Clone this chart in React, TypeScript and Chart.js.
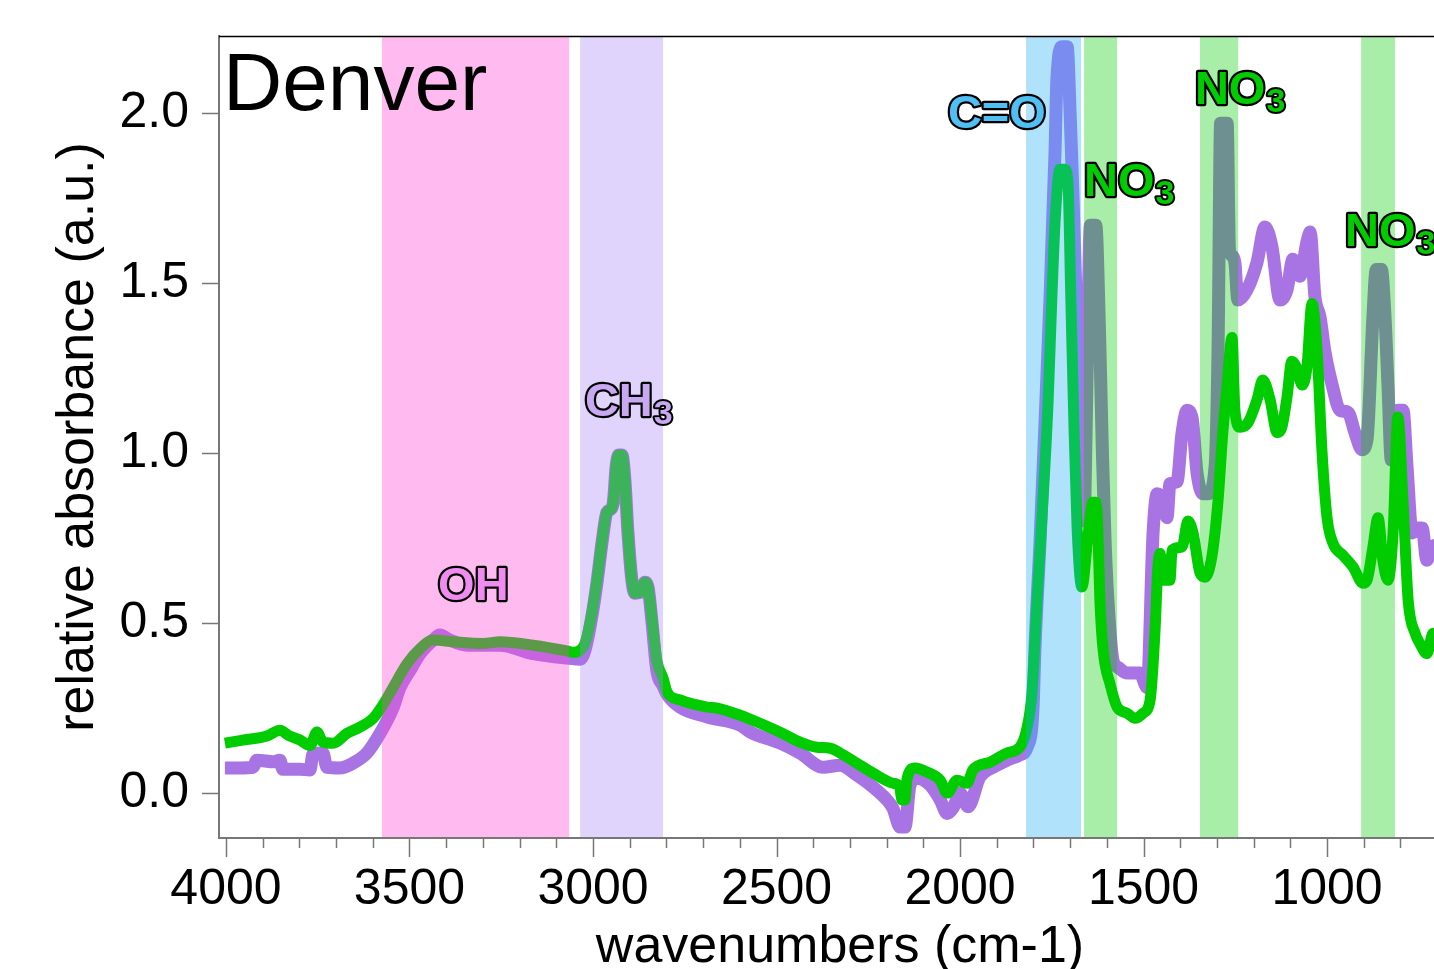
import React, { useEffect, useRef } from "react";
import { Chart, registerables } from "chart.js";

Chart.register(...registerables);

// ---------------- data ----------------
const PURPLE_WN = [4003,3960,3926,3916,3870,3853,3845,3800,3771,3763,3736,3725,3690,3654,3616,3580,3545,3526,3499,3471,3436,3417,3390,3343,3253,3163,3071,3035,3022,3003,2989,2975,2962,2950,2944,2937,2930,2921,2913,2905,2894,2886,2872,2858,2850,2839,2826,2809,2798,2763,2689,2599,2572,2490,2436,2373,2327,2281,2237,2199,2183,2163,2150,2136,2117,2082,2054,2035,2019,2000,1978,1946,1910,1872,1837,1817,1801,1796,1782,1768,1755,1741,1736,1722,1708,1700,1692,1681,1673,1665,1660,1652,1645,1630,1620,1612,1605,1597,1583,1570,1545,1510,1490,1474,1463,1447,1436,1428,1409,1395,1381,1368,1354,1338,1324,1305,1297,1290,1272,1266,1259,1251,1243,1218,1191,1169,1150,1128,1109,1093,1074,1055,1046,1033,1019,1006,986,965,943,924,905,891,875,866,852,842,834,825,815,807,793,782,768,755,741,728,714,700];
const PURPLE_ABS = [0.074,0.074,0.076,0.097,0.092,0.097,0.07,0.07,0.068,0.115,0.118,0.076,0.074,0.088,0.118,0.176,0.25,0.31,0.36,0.41,0.45,0.465,0.45,0.435,0.435,0.41,0.397,0.394,0.42,0.52,0.62,0.74,0.826,0.836,0.86,0.96,0.994,0.994,0.92,0.77,0.626,0.588,0.59,0.62,0.606,0.5,0.36,0.315,0.29,0.253,0.224,0.2,0.18,0.147,0.118,0.076,0.082,0.053,0.018,-0.02,-0.044,-0.1,-0.1,0.024,0.044,0.024,-0.02,-0.06,-0.044,0.0,-0.04,0.047,0.076,0.097,0.112,0.135,0.25,0.42,0.74,1.1,1.45,1.89,2.1,2.195,2.195,2.0,1.75,1.35,1.06,0.8,0.85,1.36,1.67,1.67,1.36,1.0,0.75,0.567,0.39,0.37,0.353,0.353,0.31,0.765,0.88,0.86,0.81,0.91,0.915,1.06,1.126,1.106,0.94,0.88,0.88,0.96,1.3,1.97,1.97,1.6,1.58,1.56,1.45,1.48,1.56,1.665,1.606,1.45,1.48,1.57,1.52,1.62,1.65,1.46,1.4,1.3,1.2,1.126,1.12,1.06,1.01,1.04,1.4,1.54,1.54,1.4,1.2,0.98,1.05,1.126,1.126,0.96,0.765,0.78,0.78,0.685,0.724,0.73];

const GREEN_WN = [4003,3954,3888,3853,3830,3798,3771,3752,3736,3708,3670,3635,3599,3572,3545,3507,3471,3436,3381,3300,3253,3163,3071,3054,3035,3022,3003,2989,2975,2962,2950,2944,2937,2930,2921,2913,2905,2894,2886,2872,2858,2850,2839,2826,2809,2798,2763,2689,2662,2599,2553,2490,2436,2390,2354,2327,2281,2237,2183,2165,2158,2150,2144,2123,2090,2054,2035,2008,1981,1965,1918,1872,1837,1817,1804,1790,1774,1760,1750,1741,1728,1715,1706,1698,1690,1681,1668,1651,1638,1630,1624,1619,1610,1591,1572,1545,1523,1501,1482,1469,1461,1455,1447,1428,1422,1395,1379,1365,1346,1333,1314,1297,1284,1273,1259,1251,1237,1215,1191,1175,1155,1136,1123,1109,1096,1082,1068,1055,1041,1027,1014,1000,984,957,929,902,891,875,861,848,834,820,807,793,779,760,747,728,711,700];
const GREEN_ABS = [0.147,0.156,0.168,0.185,0.17,0.156,0.14,0.18,0.15,0.147,0.176,0.194,0.22,0.26,0.31,0.38,0.425,0.45,0.445,0.44,0.445,0.435,0.418,0.414,0.42,0.44,0.53,0.626,0.744,0.826,0.836,0.86,0.96,0.994,0.994,0.92,0.77,0.626,0.588,0.59,0.62,0.606,0.51,0.39,0.338,0.297,0.274,0.253,0.25,0.229,0.209,0.179,0.15,0.135,0.132,0.118,0.088,0.059,0.029,0.02,-0.02,-0.02,0.044,0.074,0.062,0.038,0.0,0.038,0.029,0.068,0.091,0.118,0.135,0.194,0.294,0.57,0.86,1.15,1.45,1.68,1.835,1.835,1.8,1.45,1.1,0.78,0.606,0.76,0.855,0.855,0.76,0.57,0.42,0.32,0.253,0.235,0.22,0.235,0.274,0.47,0.665,0.705,0.626,0.626,0.715,0.724,0.8,0.765,0.647,0.635,0.694,0.86,1.06,1.19,1.34,1.126,1.076,1.09,1.156,1.215,1.156,1.06,1.076,1.165,1.27,1.25,1.2,1.25,1.44,1.3,1.01,0.81,0.735,0.7,0.665,0.617,0.626,0.724,0.81,0.685,0.626,0.765,1.106,0.86,0.567,0.47,0.44,0.41,0.47,0.47];

const X_TICKS = [4000, 3500, 3000, 2500, 2000, 1500, 1000];
const Y_TICKS = [0, 0.5, 1.0, 1.5, 2.0];

// shaded bands (from, to in wavenumbers) and fills
const BAND_FROM = [3575, 3035, 1820, 1662, 1346, 907];
const BAND_TO = [3065, 2809, 1670, 1572, 1242, 815];
const BAND_FILL = ["#ffbbf0", "#e0d4fc", "#b0e2fc", "#a8eea8", "#a8eea8", "#a8eea8"];
// how each line looks inside each band
const PURPLE_IN_BAND = ["#c864e0", "#a874e4", "#7a8cf0", "#6e9090", "#6e9090", "#6e9090"];
const GREEN_IN_BAND = ["#5c9a4a", "#3cb25a", "#08c258", "#00cc00", "#00cc00", "#00cc00"];

// outlined peak labels
const LABEL_TEXT = ["OH", "CH", "C=O", "NO", "NO", "NO"];
const LABEL_SUB = ["", "3", "", "3", "3", "3"];
const LABEL_WN = [3422, 3022, 2033, 1662, 1360, 951];
const LABEL_Y = [0.568, 1.109, 1.956, 1.756, 2.026, 1.609];
const LABEL_FILL = ["#f08cf0", "#c8a8f0", "#50c0f4", "#00cc00", "#00cc00", "#00cc00"];

const SITE_NAME = "Denver";
const SITE_WN = 4008;
const SITE_Y = 2.009;

const FONT = '"Liberation Sans", Arial, Helvetica, sans-serif';

function bandGradient(chart: any, base: string, inBand: string[]) {
  const xs = chart.scales && chart.scales.x;
  const area = chart.chartArea;
  if (!xs || !area) return base;
  const x0 = area.left;
  const x1 = area.right;
  const g = chart.ctx.createLinearGradient(x0, 0, x1, 0);
  const t = (p: number) => Math.min(1, Math.max(0, (p - x0) / (x1 - x0)));
  g.addColorStop(0, base);
  for (let i = 0; i < BAND_FROM.length; i++) {
    const a = t(xs.getPixelForValue(BAND_FROM[i]));
    const b = t(xs.getPixelForValue(BAND_TO[i]));
    g.addColorStop(a, base);
    g.addColorStop(a, inBand[i]);
    g.addColorStop(b, inBand[i]);
    g.addColorStop(b, base);
  }
  g.addColorStop(1, base);
  return g;
}

const decorPlugin = {
  id: "decor",
  beforeDatasetsDraw(chart: any) {
    const { ctx, chartArea: a, scales } = chart;
    const xs = scales.x;
    ctx.save();
    for (let i = 0; i < BAND_FROM.length; i++) {
      const p0 = xs.getPixelForValue(BAND_FROM[i]);
      const p1 = xs.getPixelForValue(BAND_TO[i]);
      ctx.fillStyle = BAND_FILL[i];
      ctx.fillRect(Math.min(p0, p1), a.top, Math.abs(p1 - p0), a.bottom - a.top - 1);
    }
    ctx.restore();
  },
  afterDatasetsDraw(chart: any) {
    const { ctx, scales } = chart;
    const xs = scales.x;
    const ys = scales.y;
    ctx.save();
    ctx.textBaseline = "alphabetic";
    ctx.textAlign = "left";
    ctx.lineJoin = "round";
    for (let i = 0; i < LABEL_TEXT.length; i++) {
      const x = xs.getPixelForValue(LABEL_WN[i]);
      const y = ys.getPixelForValue(LABEL_Y[i]);
      ctx.font = `bold 47px ${FONT}`;
      ctx.lineWidth = 4.5;
      ctx.strokeStyle = "#000";
      ctx.fillStyle = LABEL_FILL[i];
      ctx.strokeText(LABEL_TEXT[i], x, y);
      ctx.fillText(LABEL_TEXT[i], x, y);
      if (LABEL_SUB[i]) {
        const w = ctx.measureText(LABEL_TEXT[i]).width;
        ctx.font = `bold 34px ${FONT}`;
        ctx.lineWidth = 4;
        ctx.strokeText(LABEL_SUB[i], x + w + 1, y + 8);
        ctx.fillText(LABEL_SUB[i], x + w + 1, y + 8);
      }
    }
    ctx.font = `82px ${FONT}`;
    ctx.fillStyle = "#000";
    ctx.fillText(SITE_NAME, xs.getPixelForValue(SITE_WN), ys.getPixelForValue(SITE_Y));
    ctx.restore();
  },
  afterDraw(chart: any) {
    const { ctx, chartArea: a, scales } = chart;
    const xs = scales.x;
    const ys = scales.y;
    ctx.save();
    ctx.strokeStyle = "#777";
    ctx.lineWidth = 1.5;
    ctx.beginPath();
    for (const v of Y_TICKS) {
      const y = Math.round(ys.getPixelForValue(v)) + 0.5;
      ctx.moveTo(a.left - 17, y);
      ctx.lineTo(a.left, y);
    }
    const lo = Math.ceil(Math.min(xs.min, xs.max) / 100) * 100;
    for (let w = 4000; w >= lo; w -= 100) {
      const x = Math.round(xs.getPixelForValue(w)) + 0.5;
      const len = w % 500 === 0 ? 19 : 10;
      ctx.moveTo(x, a.bottom);
      ctx.lineTo(x, a.bottom + len);
    }
    ctx.stroke();
    ctx.strokeStyle = "#000";
    ctx.lineWidth = 1.5;
    ctx.beginPath();
    ctx.moveTo(a.left, a.top + 0.5);
    ctx.lineTo(a.right, a.top + 0.5);
    ctx.stroke();
    ctx.restore();
  },
};

export default function App() {
  const ref = useRef<HTMLCanvasElement | null>(null);

  useEffect(() => {
    document.body.style.margin = "0";
    const canvas = ref.current;
    if (!canvas) return;
    const purple = PURPLE_WN.map((w, i) => ({ x: w, y: PURPLE_ABS[i] }));
    const green = GREEN_WN.map((w, i) => ({ x: w, y: GREEN_ABS[i] }));
    const chart = new Chart(canvas, {
      type: "line",
      data: {
        datasets: [
          {
            label: "purple",
            data: purple,
            order: 2,
            borderWidth: 13,
            borderColor: (c: any) => bandGradient(c.chart, "#a874e4", PURPLE_IN_BAND),
            pointRadius: 0,
            cubicInterpolationMode: "monotone",
            borderJoinStyle: "round",
            fill: false,
          },
          {
            label: "green",
            data: green,
            order: 1,
            borderWidth: 11,
            borderColor: (c: any) => bandGradient(c.chart, "#00cc00", GREEN_IN_BAND),
            pointRadius: 0,
            cubicInterpolationMode: "monotone",
            borderJoinStyle: "round",
            fill: false,
          },
        ],
      },
      options: {
        animation: false,
        responsive: false,
        devicePixelRatio: 1,
        layout: { padding: { top: 36, left: 0, right: 0, bottom: 0 } },
        plugins: {
          legend: { display: false },
          tooltip: { enabled: false },
          title: { display: false },
        },
        scales: {
          x: {
            type: "linear",
            reverse: true,
            min: 635,
            max: 4019,
            afterBuildTicks: (s: any) => {
              s.ticks = X_TICKS.map((v) => ({ value: v }));
            },
            afterFit: (s: any) => {
              s.height = 131;
              s.paddingLeft = 0;
              s.paddingRight = 0;
            },
            ticks: {
              autoSkip: false,
              maxRotation: 0,
              padding: 22,
              color: "#000",
              font: { family: FONT, size: 50 },
              callback: (v: any) => String(v),
            },
            grid: { display: false, drawTicks: false },
            border: { display: true, color: "#777", width: 2 },
            title: {
              display: true,
              text: "wavenumbers (cm-1)",
              color: "#000",
              font: { family: FONT, size: 52 },
              padding: { top: 0, bottom: -10 },
            },
          },
          y: {
            type: "linear",
            min: -0.132,
            max: 2.2265,
            afterBuildTicks: (s: any) => {
              s.ticks = Y_TICKS.map((v) => ({ value: v }));
            },
            afterFit: (s: any) => {
              s.width = 219;
              s.paddingTop = 0;
              s.paddingBottom = 0;
            },
            ticks: {
              padding: 30,
              color: "#000",
              font: { family: FONT, size: 50 },
              callback: (v: any) => Number(v).toFixed(1),
            },
            grid: { display: false, drawTicks: false },
            border: { display: true, color: "#777", width: 2 },
            title: {
              display: true,
              text: "relative absorbance (a.u.)",
              color: "#000",
              font: { family: FONT, size: 52 },
              padding: { top: 47, bottom: 0 },
            },
          },
        },
      },
      plugins: [decorPlugin],
    } as any);
    return () => chart.destroy();
  }, []);

  return (
    <div style={{ width: 1434, height: 969, overflow: "hidden", position: "relative" }}>
      <canvas ref={ref} width={1461} height={969} style={{ display: "block", width: 1461, height: 969 }} />
    </div>
  );
}
